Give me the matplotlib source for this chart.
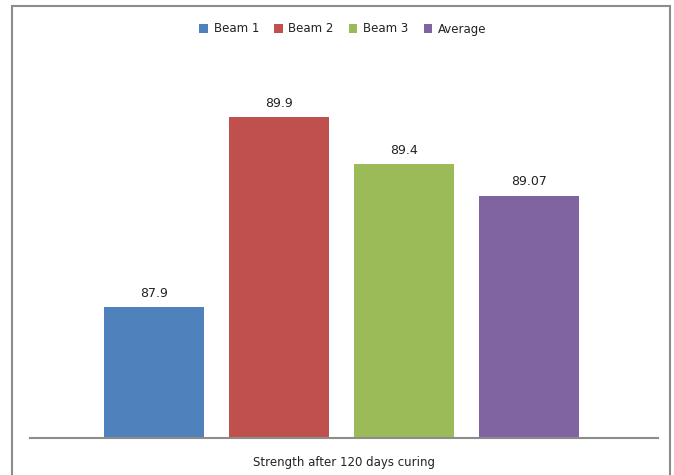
import matplotlib
matplotlib.use("Agg")
import matplotlib.pyplot as plt
from matplotlib.patches import Rectangle

series = ["Beam 1", "Beam 2", "Beam 3", "Average"]
values = [87.9, 89.9, 89.4, 89.07]
labels = ["87.9", "89.9", "89.4", "89.07"]
category = "Strength after 120 days curing"
colors = ["#4F81BD", "#C0504D", "#9BBB59", "#8064A2"]

plt.rcParams["font.family"] = ["DejaVu Sans"]
W, H = 674, 475
fig = plt.figure(figsize=(W / 100, H / 100), dpi=100)

# outer chart border
fig.patches.append(Rectangle((12 / W, -0.1), (670 - 12) / W, (H - 6) / H + 0.1,
                             transform=fig.transFigure, fill=False,
                             edgecolor="#8C8C8C", linewidth=1.5))

ax = fig.add_axes([30 / W, (H - 438) / H, (658 - 30) / W, (438 - 45) / H])
ymin = 86.52
ax.set_ylim(ymin, ymin + 393 / 95)
ax.set_xlim(-0.5, 0.5)

n = len(series)
for i, (s, v, lab, c) in enumerate(zip(series, values, labels, colors)):
    x = (i - (n - 1) / 2) * 0.199 - 0.0035
    ax.bar(x, v - ymin, bottom=ymin, width=0.159, color=c, label=s, zorder=2)
    ax.annotate(lab, (x, v), xytext=(0, 10), textcoords="offset points",
                ha="center", va="center", fontsize=9, color="#222222")

for sp in ["top", "right", "left"]:
    ax.spines[sp].set_visible(False)
ax.spines["bottom"].set_color("#8C8C8C")
ax.spines["bottom"].set_linewidth(1.5)
ax.set_yticks([])
ax.set_xticks([0])
ax.set_xticklabels([category], fontsize=8.5, color="#222222")
ax.tick_params(axis="x", length=0, pad=13)

fig.legend(loc="center", bbox_to_anchor=(343 / W, 1 - 29 / H), ncol=4,
           frameon=False, fontsize=8.5, handlelength=0.7, handleheight=0.7,
           handletextpad=0.5, columnspacing=1.3, labelcolor="#222222")

fig.savefig("out.png", dpi=100)
